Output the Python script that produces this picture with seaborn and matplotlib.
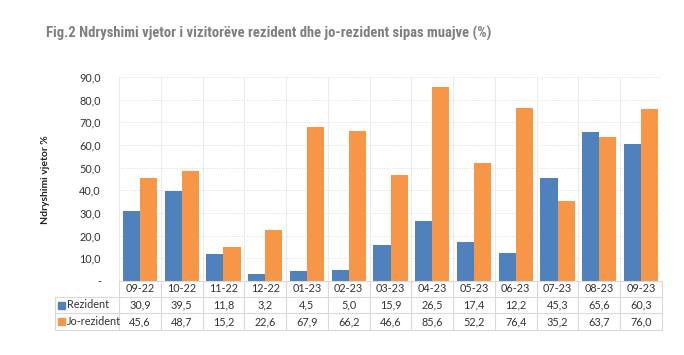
import matplotlib
matplotlib.use("Agg")
import matplotlib.pyplot as plt
from matplotlib import font_manager
import seaborn as sns
import pandas as pd
import numpy as np

months = ["09-22", "10-22", "11-22", "12-22", "01-23", "02-23", "03-23",
          "04-23", "05-23", "06-23", "07-23", "08-23", "09-23"]
rezident = [30.9, 39.5, 11.8, 3.2, 4.5, 5.0, 15.9, 26.5, 17.4, 12.2, 45.3, 65.6, 60.3]
jo_rezident = [45.6, 48.7, 15.2, 22.6, 67.9, 66.2, 46.6, 85.6, 52.2, 76.4, 35.2, 63.7, 76.0]
series_names = ["Rezident", "Jo-rezident"]
colors = ["#4F81BD", "#F79646"]
yticks = [0, 10, 20, 30, 40, 50, 60, 70, 80, 90]
title = "Fig.2 Ndryshimi vjetor i vizitorëve rezident dhe jo-rezident sipas muajve (%)"

df = pd.DataFrame({
    "month": months * 2,
    "series": [series_names[0]] * len(months) + [series_names[1]] * len(months),
    "value": rezident + jo_rezident,
})

sns.set_theme(style="white")
plt.rcParams["font.family"] = ["Lato", "DejaVu Sans"]

fig = plt.figure(figsize=(6.84, 3.55), dpi=100)
W, H = 684, 355
x0, x1, ytop, ybot = 119, 662, 77, 281
ax = fig.add_axes([x0 / W, 1 - ybot / H, (x1 - x0) / W, (ybot - ytop) / H])

sns.barplot(data=df, x="month", y="value", hue="series", order=months,
            hue_order=series_names, palette=colors, width=0.82,
            saturation=1, legend=False, ax=ax, edgecolor="none")

fs = 7.8
tc = "#333333"
n = len(months)
ax.set_xlim(-0.5, n - 0.5)
ax.set_ylim(0, 90)
ax.set_yticks(yticks)
ax.set_yticklabels(["-" if v == 0 else f"{v:.1f}".replace(".", ",") for v in yticks],
                   fontsize=fs, color=tc)
ax.tick_params(axis="y", length=0, pad=13)
ax.set_xticks([])
ax.set_xlabel("")
ax.set_ylabel("")
for s in ["top", "right", "left"]:
    ax.spines[s].set_visible(False)
ax.spines["bottom"].set_color("#D9D9D9")
ax.spines["bottom"].set_linewidth(0.8)
for v in yticks[1:]:
    ax.axhline(v, color="#D0D0D0", lw=0.6, ls=(0, (1, 2)), zorder=0)
for i in range(n + 1):
    ax.axvline(i - 0.5, color="#EBEBEB", lw=0.7, zorder=0)

# data table
px = lambda y: (ybot - y) / (ybot - ytop)
rows = [281, 297, 313, 330]
rf = [px(r) for r in rows]
trans = ax.get_xaxis_transform()
left_x = (55 - x0) / (x1 - x0) * n - 0.5
line_c = "#D9D9D9"
for r in rf[1:]:
    ax.plot([left_x, n - 0.5], [r, r], transform=trans, color=line_c, lw=0.8, clip_on=False)
for i in range(n + 1):
    ax.plot([i - 0.5, i - 0.5], [rf[0], rf[3]], transform=trans, color=line_c, lw=0.8, clip_on=False)
ax.plot([left_x, left_x], [rf[1], rf[3]], transform=trans, color=line_c, lw=0.8, clip_on=False)

for i, m in enumerate(months):
    ax.text(i, (rf[0] + rf[1]) / 2, m, transform=trans, ha="center", va="center",
            fontsize=fs, color=tc, clip_on=False)
    ax.text(i, (rf[1] + rf[2]) / 2, f"{rezident[i]:.1f}".replace(".", ","), transform=trans,
            ha="center", va="center", fontsize=fs, color=tc, clip_on=False)
    ax.text(i, (rf[2] + rf[3]) / 2, f"{jo_rezident[i]:.1f}".replace(".", ","), transform=trans,
            ha="center", va="center", fontsize=fs, color=tc, clip_on=False)

for k, (name, c) in enumerate(zip(series_names, colors)):
    yc = 1 - ((rows[k + 1] + rows[k + 2]) / 2) / H
    fig.patches.append(plt.Rectangle((58 / W, yc - 3.5 / H), 7 / W, 7 / H,
                                     transform=fig.transFigure, color=c))
    fig.text(67 / W, yc, name, ha="left", va="center", fontsize=fs, color=tc)

fig.text(45 / W, 1 - 180 / H, "Ndryshimi vjetor %", rotation=90, ha="center", va="center",
         fontsize=7.5, fontweight="bold", color="#222222")

# title: prefer a narrow family with a bold face if installed
bold_fams = {}
for f in font_manager.fontManager.ttflist:
    w = f.weight if isinstance(f.weight, int) else 400
    if w >= 600:
        bold_fams.setdefault(f.name, True)
pref = ["Liberation Sans Narrow", "Roboto Condensed", "Open Sans Condensed",
        "Noto Sans Condensed", "DejaVu Sans Condensed", "Liberation Sans"]
tfam = next((p for p in pref if p in bold_fams), "DejaVu Sans")
t = fig.text(46 / W, 1 - 33 / H, title, ha="left", va="center", fontsize=10,
             fontweight="bold", color="#7F7F7F", family=[tfam, "DejaVu Sans"])
fig.canvas.draw()
bb = t.get_window_extent()
t.set_fontsize(10 * 447 / bb.width)

fig.savefig("out.png", dpi=100, facecolor="white")
